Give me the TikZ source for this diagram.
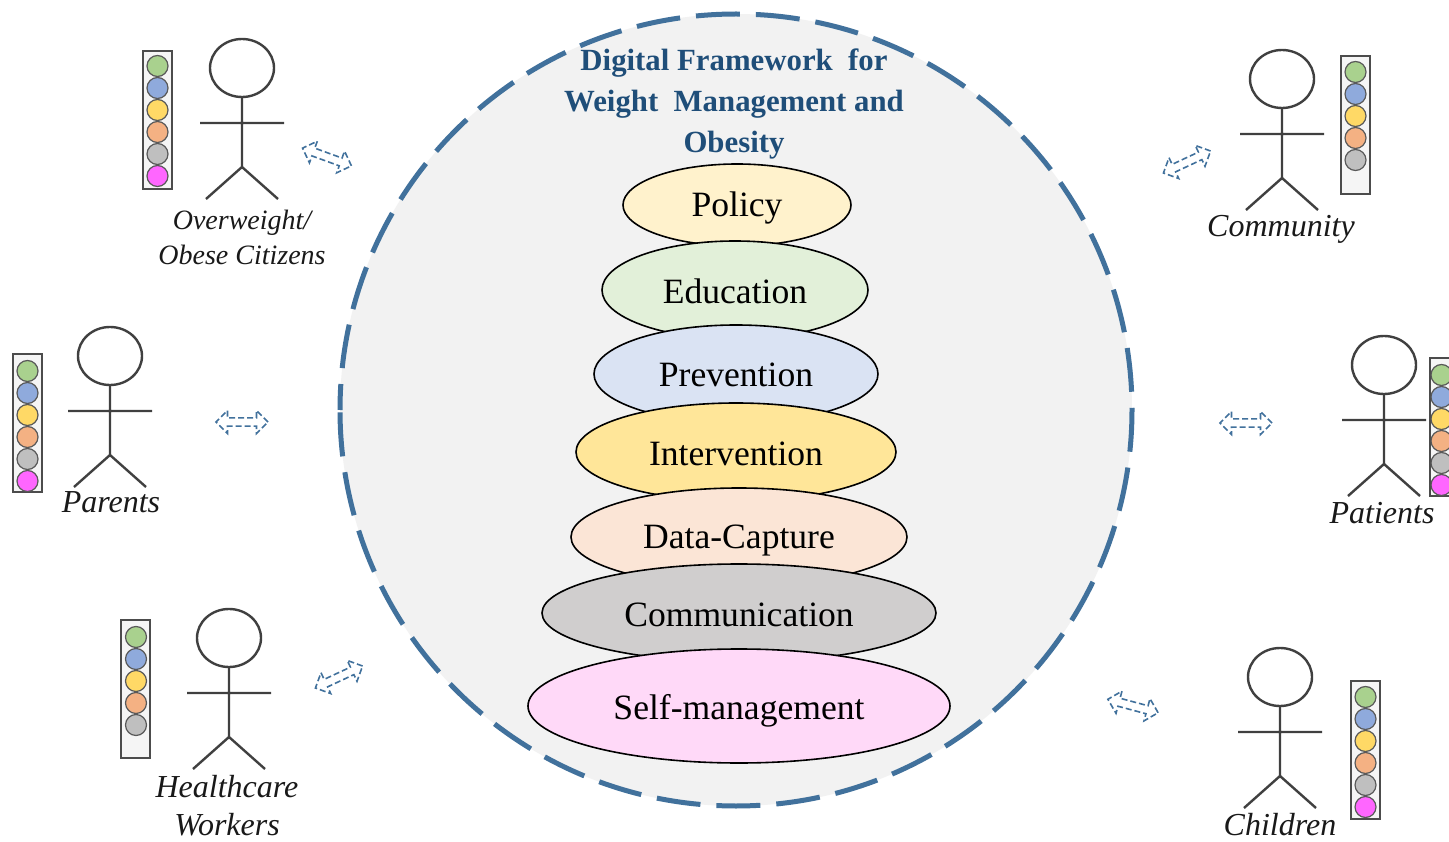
\documentclass[tikz,border=0pt]{standalone}
\usepackage{fontspec}
\setmainfont{Liberation Serif}
\usetikzlibrary{shapes.geometric,shapes.arrows}
\definecolor{ringblue}{HTML}{41719C}
\definecolor{titleblue}{HTML}{1F4E79}
\definecolor{disc}{HTML}{F2F2F2}
\definecolor{dgreen}{HTML}{A9D18E}
\definecolor{dblue}{HTML}{8FAADC}
\definecolor{dyellow}{HTML}{FFD966}
\definecolor{dorange}{HTML}{F4B183}
\definecolor{dgrey}{HTML}{BFBFBF}
\definecolor{dpink}{HTML}{FF66FF}
\definecolor{fpolicy}{HTML}{FFF2CC}
\definecolor{feducation}{HTML}{E2F0D9}
\definecolor{fprevention}{HTML}{DAE3F3}
\definecolor{fintervention}{HTML}{FFE699}
\definecolor{fdata}{HTML}{FBE5D6}
\definecolor{fcomm}{HTML}{D0CECE}
\definecolor{fself}{HTML}{FFD9F8}
\tikzset{
  x=1pt,y=-1pt,
  layer/.style={ellipse,draw=black,line width=1.6pt,inner sep=0pt,text height=26pt,text depth=0pt,font=\fontsize{35.6}{38}\selectfont},
  limb/.style={draw=black!75,line width=2.4pt},
  headshape/.style={ellipse,draw=black!75,line width=2.4pt,fill=white,minimum width=64pt,minimum height=58pt,inner sep=0pt},
  tray/.style={rectangle,draw=black!70,line width=1.3pt,fill=black!4,minimum width=29pt,minimum height=138pt,inner sep=0pt},
  dot/.style={circle,draw=black!65,line width=1.2pt,minimum size=21pt,inner sep=0pt},
  who/.style={font=\fontsize{32}{38}\selectfont\itshape,align=center,text=black!90,inner sep=0pt},
  link/.style={double arrow,draw=ringblue,dash pattern=on 6pt off 3pt,line width=1.6pt,minimum width=23pt,minimum height=52pt,
    double arrow head extend=5pt,inner sep=2pt},
  titletext/.style={font=\fontsize{30.8}{41}\selectfont\bfseries,text=titleblue,align=center}
}
% #1 name, #2 head x, #3 head y, #4 tray x, #5 tray top y
\newcommand{\personfig}[5]{%
  \node[headshape] (#1head) at (#2,#3) {};
  \coordinate (#1hip) at (#2,#3+99);
  \coordinate (#1l) at (#2-42,#3+55);
  \coordinate (#1r) at (#2+42,#3+55);
  \coordinate (#1fl) at (#2-36,#3+131);
  \coordinate (#1fr) at (#2+36,#3+131);
  \path[limb] (#1head.south) -- (#1hip) (#1l) -- (#1r) (#1fl) -- (#1hip) -- (#1fr);
  \node[tray] (#1tray) at (#4,#5+69) {};
}
% #1 name, #2 x, #3 first y, #4 count
\newcommand{\dotstack}[4]{%
  \node[dot,fill=dgreen] (#1a) at (#2,#3) {};
  \node[dot,fill=dblue] (#1b) at (#2,#3+22) {};
  \node[dot,fill=dyellow] (#1c) at (#2,#3+44) {};
  \node[dot,fill=dorange] (#1d) at (#2,#3+66) {};
  \node[dot,fill=dgrey] (#1e) at (#2,#3+88) {};
  \ifnum#4>5 \node[dot,fill=dpink] (#1f) at (#2,#3+110) {};\fi
}
\begin{document}
\begin{tikzpicture}
\useasboundingbox (0,0) rectangle (1449,842);
\fill[white] (0,0) rectangle (1449,842);
\clip (0,0) rectangle (1449,842);
\node[circle,fill=disc,minimum size=792pt,inner sep=0pt,outer sep=0pt] (ring) at (736,410) {};
\draw[draw=ringblue,line width=5pt,dash pattern=on 44pt off 16pt,dash phase=18pt] (ring.west) arc[start angle=180,delta angle=360,radius=396];
\node[titletext] (title) at (734,104) {Digital Framework\ \ for\\Weight\ \ Management and\\Obesity};
\node[layer,text height=24pt,fill=fpolicy,minimum width=228pt,minimum height=82pt] (policy) at (737,205) {Policy};
\node[layer,text height=28pt,fill=feducation,minimum width=266pt,minimum height=98pt] (education) at (735,290) {Education};
\node[layer,fill=fprevention,minimum width=284pt,minimum height=98pt] (prevention) at (736,374) {Prevention};
\node[layer,fill=fintervention,minimum width=320pt,minimum height=98pt] (intervention) at (736,452) {Intervention};
\node[layer,text height=23pt,fill=fdata,minimum width=336pt,minimum height=98pt] (data) at (739,537) {Data-Capture};
\node[layer,fill=fcomm,minimum width=394pt,minimum height=98pt] (comm) at (739,613) {Communication};
\node[layer,fill=fself,minimum width=422pt,minimum height=114pt] (self) at (739,706) {Self-management};

\personfig{ob}{242}{68}{157.5}{51}
\dotstack{ob}{157.5}{66}{6}
\node[who,font=\fontsize{28}{35}\selectfont\itshape] (obname) at (242,237) {Overweight/\\Obese Citizens};
\personfig{co}{1282}{79}{1355.5}{56}
\dotstack{co}{1355.5}{72}{5}
\node[who] (coname) at (1281,229) {Community};
\personfig{pa}{110}{356}{27.5}{354}
\dotstack{pa}{27.5}{371}{6}
\node[who] (paname) at (111,502) {Parents};
\personfig{pt}{1384}{365}{1444.5}{358}
\dotstack{pt}{1441.5}{375}{6}
\node[who] (ptname) at (1382,513) {Patients};
\personfig{hc}{229}{638}{135.5}{620}
\dotstack{hc}{136}{637}{5}
\node[who] (hcname) at (227,806) {Healthcare\\Workers};
\personfig{ch}{1280}{677}{1365.5}{681}
\dotstack{ch}{1365.5}{697}{6}
\node[who] (chname) at (1280,825) {Children};

\node[link,rotate=-20] (l1) at (327,157) {};
\node[link,rotate=25] (l2) at (1187,162) {};
\node[link] (l3) at (242,422) {};
\node[link] (l4) at (1246,423) {};
\node[link,rotate=25] (l5) at (339,677) {};
\node[link,rotate=-15] (l6) at (1133,706) {};
\end{tikzpicture}
\end{document}
